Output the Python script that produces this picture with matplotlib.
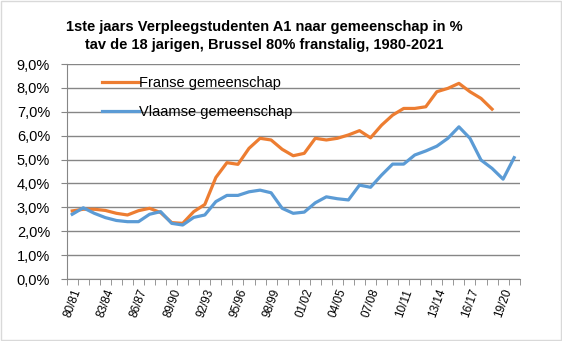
import matplotlib.pyplot as plt
import numpy as np

# academiejaren 1980/81 .. 2020/21
jaren = ["%02d/%02d" % (y % 100, (y + 1) % 100) for y in range(1980, 2021)]

# aandeel 1ste jaars A1 tov 18-jarigen, in %
franse = [2.85, 2.92, 2.92, 2.87, 2.75, 2.68, 2.86, 2.96, 2.78, 2.36,
          2.33, 2.82, 3.12, 4.25, 4.87, 4.80, 5.47, 5.89, 5.82, 5.43,
          5.16, 5.26, 5.89, 5.82, 5.89, 6.03, 6.21, 5.91, 6.44, 6.86,
          7.14, 7.14, 7.21, 7.84, 7.98, 8.19, 7.84, 7.56, 7.11]
vlaamse = [2.71, 2.98, 2.75, 2.57, 2.45, 2.40, 2.40, 2.71, 2.82, 2.33,
           2.26, 2.58, 2.68, 3.24, 3.50, 3.50, 3.65, 3.72, 3.61, 2.96,
           2.75, 2.80, 3.19, 3.44, 3.36, 3.31, 3.93, 3.84, 4.35, 4.81,
           4.81, 5.19, 5.36, 5.56, 5.89, 6.37, 5.89, 4.98, 4.63, 4.18,
           5.08]

oranje = "#ED7D31"
blauw = "#5B9BD5"
grijs = "#868686"

plt.rcParams['font.family'] = ['Liberation Sans', 'DejaVu Sans']

fig = plt.figure(figsize=(5.62, 3.41), dpi=100)
ax = fig.add_axes([0.1187, 0.1818, 0.806, 0.6305])

x = np.arange(len(jaren))
ax.plot(x[:len(franse)], franse, color=oranje, lw=2.3, label="Franse gemeenschap",
        solid_joinstyle='round')
ax.plot(x, vlaamse, color=blauw, lw=2.3, label="Vlaamse gemeenschap",
        solid_joinstyle='round')

ax.set_xlim(-0.5, len(jaren) - 0.5)
ax.set_ylim(0, 9)
ax.set_yticks(np.arange(0, 10))
ax.set_yticklabels(["%d,0%%" % v for v in range(10)], fontsize=10.5)
ax.grid(axis='y', color=grijs, lw=1)
ax.set_axisbelow(True)

# tickmarks tussen de categorieen, labels om de 3 jaar
ax.set_xticks(np.arange(-0.5, len(jaren)), minor=True)
ax.set_xticks(x[::3])
ax.set_xticklabels(jaren[::3], rotation=70, ha='right', rotation_mode='anchor',
                   fontsize=8.5)
ax.tick_params(axis='x', which='major', length=0, pad=6)
ax.tick_params(axis='x', which='minor', length=4, color=grijs)
ax.tick_params(axis='y', length=4, color=grijs, pad=8)

for s in ['top', 'right']:
    ax.spines[s].set_visible(False)
for s in ['left', 'bottom']:
    ax.spines[s].set_color(grijs)

ax.legend(loc='upper left', bbox_to_anchor=(0.05, 1.005), frameon=False,
          fontsize=10.5, handlelength=2.5, handletextpad=0.0, labelspacing=1.05)

fig.text(0.47, 0.894, "1ste jaars Verpleegstudenten A1 naar gemeenschap in %\n"
         "tav de 18 jarigen, Brussel 80% franstalig, 1980-2021",
         ha='center', va='center', fontsize=10.5, fontweight='bold',
         linespacing=1.3)

# rand rond de grafiek
fig.patches.append(plt.Rectangle((0.001, 0.002), 0.997, 0.995, transform=fig.transFigure,
                                 fill=False, edgecolor="#D9D9D9", lw=1))

fig.savefig("out.png", dpi=100)
